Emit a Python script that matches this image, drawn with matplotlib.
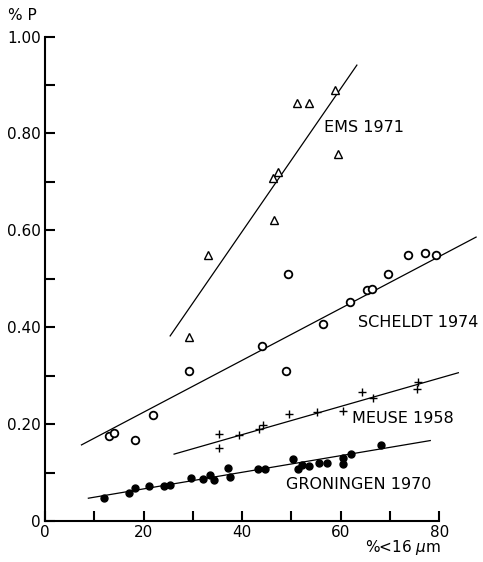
import matplotlib
matplotlib.use("Agg")
import matplotlib.pyplot as plt
from matplotlib.ticker import MultipleLocator, FixedLocator

# data (% < 16 um vs % P)
ems_x = [29.2, 33.0, 46.5, 46.2, 47.2, 51.1, 53.5, 58.9, 59.4]
ems_y = [0.380, 0.548, 0.621, 0.707, 0.721, 0.862, 0.862, 0.890, 0.757]
ems_fit_x = [25.4, 63.3]
ems_fit_y = [0.382, 0.941]

scheldt_x = [13.0, 14.0, 18.3, 21.9, 29.3, 44.1, 49.0, 49.4, 56.4, 61.9,
             65.3, 66.3, 69.6, 73.6, 77.2, 79.3]
scheldt_y = [0.175, 0.182, 0.168, 0.219, 0.310, 0.361, 0.309, 0.510, 0.407, 0.453,
             0.477, 0.479, 0.510, 0.548, 0.554, 0.550]
scheldt_fit_x = [7.4, 87.5]
scheldt_fit_y = [0.157, 0.586]

meuse_x = [35.3, 35.3, 39.4, 43.5, 44.3, 49.5, 55.2, 60.4, 64.3, 66.5, 75.5, 75.8]
meuse_y = [0.179, 0.150, 0.178, 0.189, 0.198, 0.220, 0.225, 0.227, 0.266, 0.253, 0.272, 0.286]
meuse_fit_x = [26.2, 83.9]
meuse_fit_y = [0.138, 0.306]

gron_x = [12.0, 17.0, 18.3, 21.1, 24.2, 25.4, 29.6, 32.0, 33.4, 34.3, 37.2, 37.6,
          43.2, 44.6, 50.4, 51.4, 52.2, 53.5, 55.6, 57.2, 60.4, 60.4, 62.1, 68.2]
gron_y = [0.047, 0.058, 0.069, 0.073, 0.073, 0.074, 0.089, 0.086, 0.094, 0.084, 0.110, 0.090,
          0.108, 0.108, 0.127, 0.107, 0.115, 0.113, 0.119, 0.120, 0.130, 0.118, 0.138, 0.157]
gron_fit_x = [8.8, 78.2]
gron_fit_y = [0.047, 0.166]

labels = ["EMS 1971", "SCHELDT 1974", "MEUSE 1958", "GRONINGEN 1970"]
label_x = [56.6, 63.5, 62.3, 48.9]
label_y = [0.812, 0.409, 0.211, 0.076]

fig = plt.figure(figsize=(4.83, 5.62), dpi=100)
ax = fig.add_axes([0.0932, 0.073, 0.816, 0.862])

lk = dict(color="black", lw=0.9, clip_on=False)
ax.plot(ems_fit_x, ems_fit_y, **lk)
ax.plot(scheldt_fit_x, scheldt_fit_y, **lk)
ax.plot(meuse_fit_x, meuse_fit_y, **lk)
ax.plot(gron_fit_x, gron_fit_y, **lk)

ax.plot(ems_x, ems_y, "^", ms=6, mfc="white", mec="black", mew=1.0, ls="none", clip_on=False)
ax.plot(scheldt_x, scheldt_y, "o", ms=5.5, mfc="white", mec="black", mew=1.3, ls="none", clip_on=False)
ax.plot(meuse_x, meuse_y, "+", ms=6, mec="black", mew=1.0, ls="none", clip_on=False)
ax.plot(gron_x, gron_y, "o", ms=5, color="black", ls="none", clip_on=False)

for t, x, y in zip(labels, label_x, label_y):
    ax.text(x, y, t, fontsize=11.5, va="center", ha="left", family="DejaVu Sans")

ax.set_xlim(0, 80)
ax.set_ylim(0, 1.0)
ax.spines["top"].set_visible(False)
ax.spines["right"].set_visible(False)
ax.spines["left"].set_linewidth(1.5)
ax.spines["bottom"].set_linewidth(1.5)

ax.xaxis.set_major_locator(FixedLocator([0, 20, 40, 60, 80]))
ax.xaxis.set_minor_locator(MultipleLocator(10))
ax.yaxis.set_major_locator(FixedLocator([0, 0.2, 0.4, 0.6, 0.8, 1.0]))
ax.yaxis.set_minor_locator(MultipleLocator(0.1))
ax.set_xticklabels(["0", "20", "40", "60", "80"])
ax.set_yticklabels(["0", "0.20", "0.40", "0.60", "0.80", "1.00"])
ax.tick_params(which="both", direction="in", length=7, width=1.5, labelsize=11, pad=3)

fig.text(0.017, 0.972, "% P", fontsize=11, ha="left", va="center")
fig.text(0.912, 0.025, "%<16 $\\mu$m", fontsize=11, ha="right", va="center")

fig.savefig("out.png", dpi=100)
